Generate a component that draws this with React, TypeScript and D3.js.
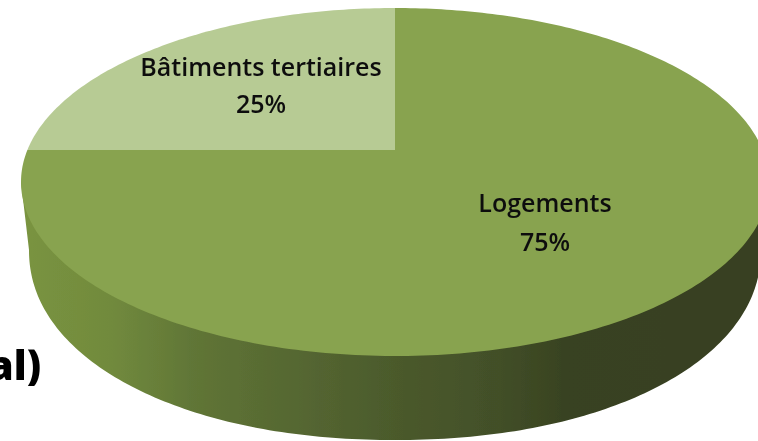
import React from "react";
import * as d3 from "d3";

const categories = ["Logements", "Bâtiments tertiaires"];
const values = [75, 25];
const percentLabels = ["75%", "25%"];
const sliceColors = ["#88a34f", "#b7cb94"];
const clippedTitle = "al)";
const sideStops: [number, string][] = [
  [0, "#7a9440"],
  [0.12, "#718a3d"],
  [0.24, "#5f7436"],
  [0.5, "#4b5a2c"],
  [0.64, "#424f28"],
  [0.73, "#384220"],
  [1, "#384020"],
];

const W = 758, H = 441;
const cx = 395, cy = 182, rx = 374, ry = 174;
const bcx = 395, bcy = 250, brx = 366, bry = 190, bn = 2.1;
const k = (150 - cy) / ry; // perspective shift of the pie's apex

// maps an angle on the pie's circle to the tilted ellipse
function project(a: number): [number, number] {
  const u = Math.sin(a), v = -Math.cos(a);
  const d = 1 + k * v;
  return [cx + (rx * u * Math.sqrt(1 - k * k)) / d, cy + (ry * (v + k)) / d];
}
const apex: [number, number] = [cx, cy + ry * k];

export default function App() {
  const arcs = d3.pie<number>().sort(null)(values);
  const line = d3.line();
  const slicePath = (s: number, e: number) => {
    const n = Math.max(2, Math.ceil((e - s) * 60));
    const pts = d3.range(n + 1).map((i) => project(s + ((e - s) * i) / n));
    return line([apex, ...pts, apex])! + "Z";
  };
  const sidePts = d3.range(0, 181).map((i) => {
    const t = (Math.PI * i) / 180;
    const c = Math.cos(t), s = Math.sin(t);
    return [
      bcx + brx * Math.sign(c) * Math.pow(Math.abs(c), 2 / bn),
      bcy + bry * Math.pow(s, 2 / bn),
    ] as [number, number];
  });
  const side = line([[cx + rx, cy], ...sidePts, [cx - rx, cy]])! + "Z";
  const labelPos = [
    { x: 545, y1: 212, y2: 251 },
    { x: 261, y1: 76, y2: 113 },
  ];
  const fontFamily = "'Open Sans', 'Noto Sans', sans-serif";
  return (
    <svg
      width={W}
      height={H}
      viewBox={`0 0 ${W} ${H}`}
      style={{ position: "fixed", left: 0, top: 0, display: "block", background: "#fff" }}
    >
      <defs>
        <linearGradient id="side" gradientUnits="userSpaceOnUse" x1={cx - rx} x2={cx + rx} y1={0} y2={0}>
          {sideStops.map(([o, c]) => (
            <stop key={o} offset={o} stopColor={c} />
          ))}
        </linearGradient>
        <filter id="soft" x="-5%" y="-5%" width="110%" height="110%">
          <feGaussianBlur stdDeviation="0.5" />
        </filter>
      </defs>
      <g filter="url(#soft)">
        <path d={side} fill="url(#side)" />
        {arcs.map((a, i) => (
          <path key={categories[i]} d={slicePath(a.startAngle, a.endAngle)} fill={sliceColors[i]} />
        ))}
        {categories.map((c, i) => (
          <g key={c} fontFamily={fontFamily} fontWeight={600} fontSize={25} fill="#111" textAnchor="middle">
            <text x={labelPos[i].x} y={labelPos[i].y1}>{c}</text>
            <text x={labelPos[i].x} y={labelPos[i].y2}>{percentLabels[i]}</text>
          </g>
        ))}
        <text x={41} y={380} textAnchor="end" fontFamily={fontFamily} fontWeight={800} fontSize={40} fill="#000">
          {clippedTitle}
        </text>
      </g>
    </svg>
  );
}
